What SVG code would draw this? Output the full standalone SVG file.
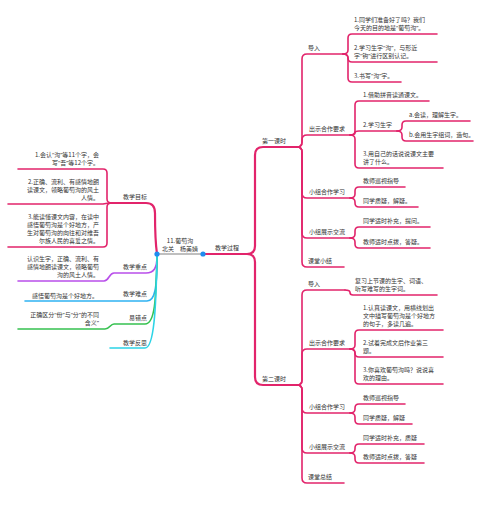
<svg xmlns="http://www.w3.org/2000/svg" width="501" height="510" viewBox="0 0 501 510">
<style>
text{font-family:"Noto Sans CJK SC","Noto Sans",sans-serif;font-size:6px;fill:#333}
.q{font-family:"Noto Sans","DejaVu Sans",sans-serif}
.e{text-anchor:end}
.m{text-anchor:middle}
path{fill:none;stroke-linecap:round;stroke-linejoin:round}
.p{stroke:#E2246B;stroke-width:1.6}
.pt{stroke:#E2246B;stroke-width:2.2}
.pu{stroke:#B94FEA;stroke-width:1.6}
.sb{stroke:#2FB2F2;stroke-width:1.6}
.gr{stroke:#36C150;stroke-width:1.6}
.cy{stroke:#2DD4E6;stroke-width:1.6}
.dot{fill:#1E8CF0}
</style>
<rect width="501" height="510" fill="#fff"/>
<g id="connectors">
<path d="M157,254 L203,254" style="stroke:#ABABAB;stroke-width:1.6"/>
<path class="pt" d="M203,254 L247,254 Q255,254 255,246 L255,155 Q255,147 263,147 L297,147"/>
<path class="pt" d="M247,254 Q255,254 255,262 L255,377 Q255,385 263,385 L297,385"/>
<path class="p" d="M297,147 Q302,147 302,142 L302,59 Q302,54 307,54 L343,54"/>
<path class="p" d="M297,147 Q302,147 302,142 L302,140 Q302,135 307,135 L350,135"/>
<path class="p" d="M297,147 Q302,147 302,152 L302,193 Q302,198 307,198 L350,198"/>
<path class="p" d="M297,147 Q302,147 302,152 L302,233 Q302,238 307,238 L350,238"/>
<path class="p" d="M297,147 Q302,147 302,152 L302,262 Q302,267 307,267 L344,267"/>
<path class="p" d="M343,54 Q348,54 348,50 L348,38 Q348,34 352,34 L437,34"/>
<path class="p" d="M343,54 Q348,54 348,58 Q348,62 352,62 L437,62"/>
<path class="p" d="M343,54 Q348,54 348,58 L348,78 Q348,82 352,82 L401,82"/>
<path class="p" d="M350,135 Q355,135 355,131 L355,105 Q355,101 359,101 L429,101"/>
<path class="p" d="M350,135 Q355,135 355,133 Q355,131 359,131 L397,131"/>
<path class="p" d="M350,135 Q355,135 355,139 L355,164 Q355,168 359,168 L443,168"/>
<path class="p" d="M397,131 Q402,131 402,127 L402,125 Q402,121 406,121 L470,121"/>
<path class="p" d="M397,131 Q402,131 402,135 L402,137 Q402,141 406,141 L473,141"/>
<path class="p" d="M350,198 Q355,198 355,194 L355,191 Q355,187 359,187 L405,187"/>
<path class="p" d="M350,198 Q355,198 355,202 L355,203 Q355,207 359,207 L418,207"/>
<path class="p" d="M350,238 Q355,238 355,234 L355,231 Q355,227 359,227 L430,227"/>
<path class="p" d="M350,238 Q355,238 355,242 L355,244 Q355,248 359,248 L430,248"/>
<path class="p" d="M297,385 Q302,385 302,380 L302,295 Q302,290 307,290 L345,290"/>
<path class="p" d="M297,385 Q302,385 302,380 L302,354 Q302,349 307,349 L350,349"/>
<path class="p" d="M297,385 Q302,385 302,390 L302,408 Q302,413 307,413 L350,413"/>
<path class="p" d="M297,385 Q302,385 302,390 L302,448 Q302,453 307,453 L350,453"/>
<path class="p" d="M297,385 Q302,385 302,390 L302,478 Q302,483 307,483 L344,483"/>
<path class="p" d="M345,290 Q350,290 350,292.5 Q350,295 353,295 L437,295"/>
<path class="p" d="M350,349 Q355,349 355,345 L355,334 Q355,330 359,330 L443,330"/>
<path class="p" d="M350,349 Q355,349 355,353 Q355,357 359,357 L443,357"/>
<path class="p" d="M350,349 Q355,349 355,353 L355,380 Q355,384 359,384 L443,384"/>
<path class="p" d="M350,413 Q355,413 355,409 L355,408 Q355,404 359,404 L405,404"/>
<path class="p" d="M350,413 Q355,413 355,417 L355,420 Q355,424 359,424 L412,424"/>
<path class="p" d="M350,453 Q355,453 355,449 L355,448 Q355,444 359,444 L424,444"/>
<path class="p" d="M350,453 Q355,453 355,457 L355,459 Q355,463 359,463 L424,463"/>
<path class="pt" d="M157,254 Q155,240 155,213 Q155,203 146,203 L112,203"/>
<path class="p" d="M112,203 Q107,203 107,199 L107,173 Q107,169 103,169 L18,169"/>
<path class="p" d="M112,203 Q107,203 103,204 L8,204"/>
<path class="p" d="M112,203 Q107,203 107,207 L107,243 Q107,247 103,247 L8,247"/>
<path class="pu" d="M157,256 C157,268 154,273 146,273 L114,273 C109,273 109,281 104,281 L18,281"/>
<path class="sb" d="M157,256 C157,288 155,301 147,301 L25,301"/>
<path class="gr" d="M157,256 C156,300 155,324 145,324 L114,324 C110,324 110,329 105,329 L18,329"/>
<path class="cy" d="M157,256 C156,310 154,348 145,348 L110,348"/>
</g>
<g id="root">
<circle class="dot" cx="157" cy="254" r="2.6"/>
<circle class="dot" cx="203" cy="254" r="2.6"/>
<text class="m" x="180" y="243">11.葡萄沟</text>
<text x="162" y="251">北关</text>
<text x="180" y="251">杨美婧</text>
</g>
<g id="n-process"><text x="215" y="250">教学过程</text></g>
<g id="n-lesson1"><text x="262" y="143">第一课时</text></g>
<g id="n-lesson2"><text x="262" y="381">第二课时</text></g>
<g id="n-l1-intro"><text x="308" y="50">导入</text></g>
<g id="n-l1-intro-1"><text x="354" y="22">1.同学们准备好了吗？我们</text><text x="354" y="30">今天的目的地是<tspan class="q">“</tspan>葡萄沟<tspan class="q">”</tspan>。</text></g>
<g id="n-l1-intro-2"><text x="354" y="50">2.学习生字<tspan class="q">“</tspan>沟<tspan class="q">”</tspan>，与形近</text><text x="354" y="58">字<tspan class="q">“</tspan>钩<tspan class="q">”</tspan>进行区别认记。</text></g>
<g id="n-l1-intro-3"><text x="354" y="78">3.书写<tspan class="q">“</tspan>沟<tspan class="q">”</tspan>字。</text></g>
<g id="n-l1-req"><text x="309" y="131">出示合作要求</text></g>
<g id="n-l1-req-1"><text x="363" y="97">1.借助拼音读通课文。</text></g>
<g id="n-l1-req-2"><text x="363" y="127">2.学习生字</text></g>
<g id="n-l1-req-2a"><text x="409" y="117">a.会读，理解生字。</text></g>
<g id="n-l1-req-2b"><text x="409" y="137">b.会用生字组词，造句。</text></g>
<g id="n-l1-req-3"><text x="363" y="156">3.用自己的话说说课文主要</text><text x="363" y="164">讲了什么。</text></g>
<g id="n-l1-coop"><text x="309" y="194">小组合作学习</text></g>
<g id="n-l1-coop-1"><text x="363" y="183">教师巡视指导</text></g>
<g id="n-l1-coop-2"><text x="363" y="203">同学质疑，解疑。</text></g>
<g id="n-l1-show"><text x="309" y="234">小组展示交流</text></g>
<g id="n-l1-show-1"><text x="363" y="223">同学适时补充，提问。</text></g>
<g id="n-l1-show-2"><text x="363" y="244">教师适时点拨，答疑。</text></g>
<g id="n-l1-sum"><text x="308" y="263">课堂小结</text></g>
<g id="n-l2-intro"><text x="308" y="286">导入</text></g>
<g id="n-l2-intro-1"><text x="355" y="283">复习上节课的生字、词语、</text><text x="355" y="291">听写难写的生字词。</text></g>
<g id="n-l2-req"><text x="309" y="345">出示合作要求</text></g>
<g id="n-l2-req-1"><text x="363" y="310">1.认真读课文，用横线划出</text><text x="363" y="318">文中描写葡萄沟是个好地方</text><text x="363" y="326">的句子，多读几遍。</text></g>
<g id="n-l2-req-2"><text x="363" y="345">2.试着完成文后作业第三</text><text x="363" y="353">题。</text></g>
<g id="n-l2-req-3"><text x="363" y="372">3.你喜欢葡萄沟吗？说说喜</text><text x="363" y="380">欢的理由。</text></g>
<g id="n-l2-coop"><text x="309" y="409">小组合作学习</text></g>
<g id="n-l2-coop-1"><text x="363" y="400">教师巡视指导</text></g>
<g id="n-l2-coop-2"><text x="363" y="420">同学质疑，解疑</text></g>
<g id="n-l2-show"><text x="309" y="449">小组展示交流</text></g>
<g id="n-l2-show-1"><text x="363" y="440">同学适时补充，质疑</text></g>
<g id="n-l2-show-2"><text x="363" y="459">教师适时点拨，答疑</text></g>
<g id="n-l2-sum"><text x="308" y="479">课堂总结</text></g>
<g id="n-goal"><text class="e" x="147" y="199">教学目标</text></g>
<g id="n-goal-1"><text class="e" x="99" y="157">1.会认<tspan class="q">“</tspan>沟<tspan class="q">”</tspan>等11个字，会</text><text class="e" x="99" y="165">写<tspan class="q">“</tspan>吾<tspan class="q">”</tspan>等12个字。</text></g>
<g id="n-goal-2"><text class="e" x="99" y="184">2.正确、流利、有感情地朗</text><text class="e" x="99" y="192">读课文，领略葡萄沟的风土</text><text class="e" x="99" y="200">人情。</text></g>
<g id="n-goal-3"><text class="e" x="99" y="219">3.能读懂课文内容，在读中</text><text class="e" x="99" y="227">感悟葡萄沟是个好地方，产</text><text class="e" x="99" y="235">生对葡萄沟的向往和对维吾</text><text class="e" x="99" y="243">尔族人民的喜爱之情。</text></g>
<g id="n-key"><text class="e" x="147" y="269">教学重点</text></g>
<g id="n-key-1"><text class="e" x="99" y="261">认识生字，正确、流利、有</text><text class="e" x="99" y="269">感情地朗读课文，领略葡萄</text><text class="e" x="99" y="277">沟的风土人情。</text></g>
<g id="n-hard"><text class="e" x="147" y="296">教学难点</text></g>
<g id="n-hard-1"><text class="e" x="98" y="298">感悟葡萄沟是个好地方。</text></g>
<g id="n-err"><text class="e" x="147" y="320">易错点</text></g>
<g id="n-err-1"><text class="e" x="99" y="317">正确区分<tspan class="q">“</tspan>份<tspan class="q">”</tspan>与<tspan class="q">“</tspan>分<tspan class="q">”</tspan>的不同</text><text class="e" x="99" y="325">含义<tspan class="q">”</tspan></text></g>
<g id="n-reflect"><text class="e" x="147" y="345">教学反思</text></g>
</svg>
